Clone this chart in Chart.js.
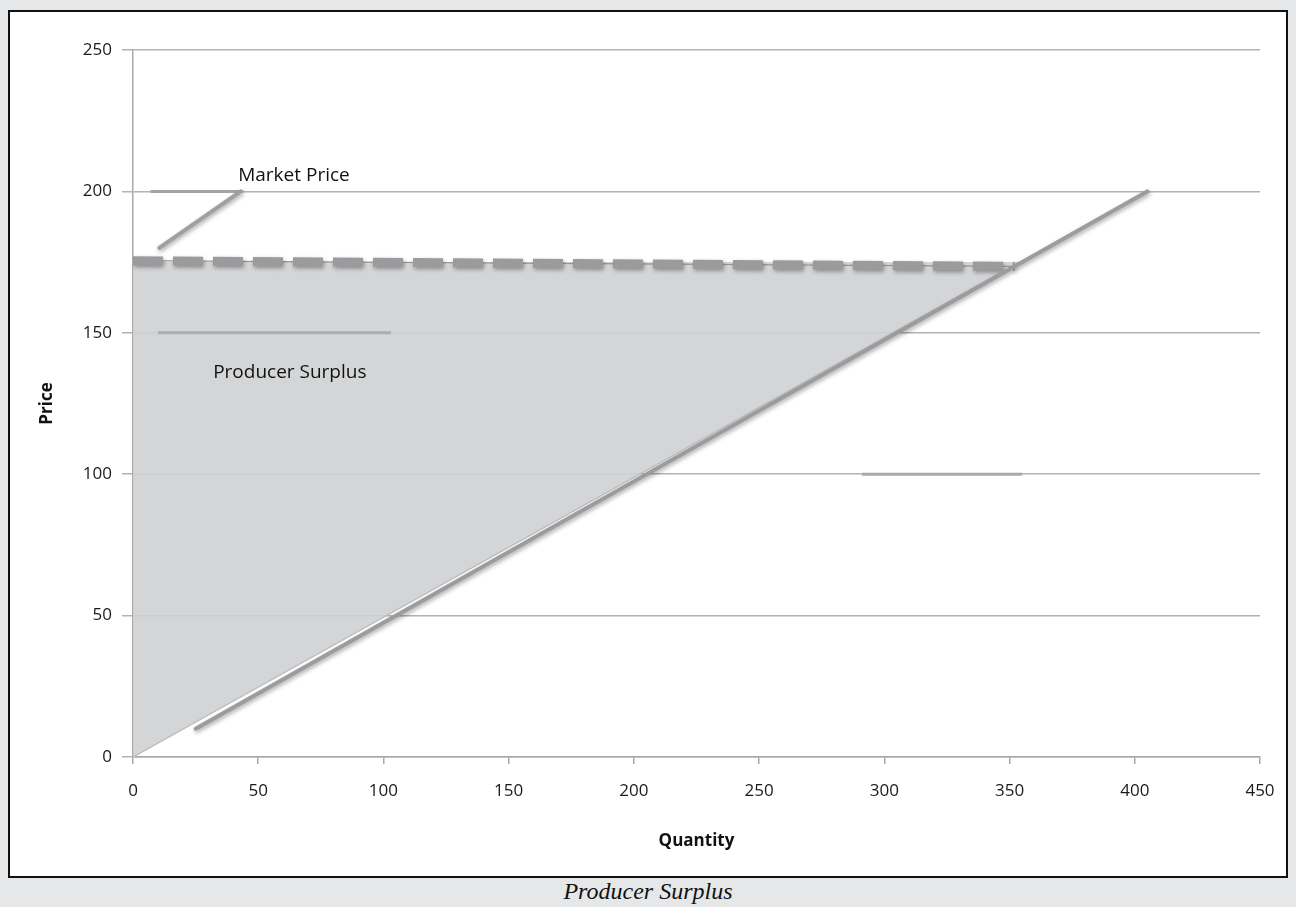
<!DOCTYPE html>
<html>
<head>
<meta charset="utf-8">
<script src="https://cdn.jsdelivr.net/npm/chart.js@4"></script>
<style>
  html, body { margin: 0; padding: 0; background: #e6e7e9; }
  .frame {
    position: absolute; left: 8px; top: 10px;
    width: 1276px; height: 864px;
    border: 2px solid #111; background: #fff;
  }
  .frame canvas { display: block; }
  .caption {
    position: absolute; left: 0; width: 1296px; top: 878px;
    text-align: center;
    font: italic 24px "Liberation Serif", "DejaVu Serif", serif;
    color: #111;
  }
</style>
</head>
<body>
<div class="frame"><canvas id="chart" width="1276" height="864"></canvas></div>
<div class="caption">Producer Surplus</div>
<script>
// axis ticks
const X_TICKS = [0, 50, 100, 150, 200, 250, 300, 350, 400, 450];
const Y_TICKS = [0, 50, 100, 150, 200, 250];

// supply curve and the shaded surplus triangle
const SUPPLY_Q = [25, 405];
const SUPPLY_P = [10, 200];
const SURPLUS_Q = [0, 354];
const SURPLUS_P = [0, 175];
const MARKET_PRICE = 175;

// market price line (dashed), drifts slightly toward the right end
const PRICE_LINE_Q = [0, 352];
const PRICE_LINE_P = [175.5, 173.5];

// callout strokes
const CALLOUT_H_Q = [7, 44];
const CALLOUT_H_P = [200, 200];
const CALLOUT_Q = [10.5, 43];
const CALLOUT_P = [180, 200];
const MARK150_Q = [10, 103];
const MARK150_P = [150, 150];
const MARK100_Q = [291, 355];
const MARK100_P = [100, 100];

// in-chart labels: [text, q, p]
const LABELS = [
  ['Market Price', 42, 205.5],
  ['Producer Surplus', 32, 136]
];

const FONT = "'Open Sans', 'Liberation Sans', sans-serif";
const pts = (xs, ys) => xs.map((x, i) => ({ x, y: ys[i] }));

const line = (data, color, width, extra) => Object.assign({
  data, borderColor: color, borderWidth: width,
  pointRadius: 0, fill: false, tension: 0, borderCapStyle: 'round'
}, extra || {});

const shadowPlugin = {
  id: 'softShadow',
  beforeDatasetDraw(chart, args) {
    const ds = chart.data.datasets[args.index];
    if (!ds.shadow) return;
    const c = chart.ctx;
    c.save();
    c.shadowColor = 'rgba(0,0,0,0.35)';
    c.shadowBlur = 4;
    c.shadowOffsetX = 1;
    c.shadowOffsetY = 2;
  },
  afterDatasetDraw(chart, args) {
    const ds = chart.data.datasets[args.index];
    if (ds.shadow) chart.ctx.restore();
  }
};

const labelPlugin = {
  id: 'textLabels',
  afterDatasetsDraw(chart) {
    const { ctx, scales: { x, y } } = chart;
    ctx.save();
    ctx.font = '19px ' + FONT;
    ctx.fillStyle = '#111';
    ctx.textBaseline = 'middle';
    ctx.textAlign = 'left';
    LABELS.forEach(([t, q, p]) => ctx.fillText(t, x.getPixelForValue(q), y.getPixelForValue(p)));
    ctx.restore();
  }
};

new Chart(document.getElementById('chart'), {
  type: 'line',
  data: {
    datasets: [
      line(pts(SURPLUS_Q, SURPLUS_P), '#bdbec0', 1.5, {
        fill: { value: MARKET_PRICE }, backgroundColor: 'rgba(207,208,210,0.9)', order: 9
      }),
      line(pts(PRICE_LINE_Q, PRICE_LINE_P), '#9a9a9c', 1.2, { order: 5 }),
      line(pts(PRICE_LINE_Q, PRICE_LINE_P), '#9b9b9d', 9, {
        borderDash: [30, 10], borderCapStyle: 'butt', shadow: true, order: 4
      }),
      line(pts(SUPPLY_Q, SUPPLY_P), '#9c9c9e', 4, { shadow: true, order: 3 }),
      line(pts(CALLOUT_H_Q, CALLOUT_H_P), '#a4a4a6', 3, { borderCapStyle: 'butt', order: 6 }),
      line(pts(CALLOUT_Q, CALLOUT_P), '#a0a0a2', 4, { shadow: true, order: 2 }),
      line(pts(MARK150_Q, MARK150_P), '#adadaf', 3, { borderCapStyle: 'butt', order: 6 }),
      line(pts(MARK100_Q, MARK100_P), '#a8a8aa', 3, { borderCapStyle: 'butt', order: 6 })
    ]
  },
  options: {
    responsive: false,
    animation: false,
    layout: { padding: { top: 38, right: 26, left: 0, bottom: 0 } },
    plugins: { legend: { display: false }, tooltip: { enabled: false } },
    scales: {
      x: {
        type: 'linear', min: 0, max: 450,
        afterBuildTicks: s => { s.ticks = X_TICKS.map(v => ({ value: v })); },
        afterFit: s => { s.height = 119; s.paddingLeft = 0; s.paddingRight = 0; },
        grid: { drawOnChartArea: false, tickLength: 7, color: '#a9a9ab', lineWidth: 1.5 },
        border: { color: '#a9a9ab', width: 1.5 },
        ticks: { color: '#1a1a1a', font: { family: FONT, size: 17 }, padding: 17, maxRotation: 0 },
        title: {
          display: true, text: 'Quantity', color: '#111',
          font: { family: FONT, size: 17, weight: 'bold' }, padding: { top: 0, bottom: 25 }
        }
      },
      y: {
        type: 'linear', min: 0, max: 250,
        afterBuildTicks: s => { s.ticks = Y_TICKS.map(v => ({ value: v })); },
        afterFit: s => { s.width = 123; s.paddingTop = 0; s.paddingBottom = 0; },
        grid: { color: '#b2b2b4', lineWidth: 1.5, tickLength: 11 },
        border: { color: '#a9a9ab', width: 1.5 },
        ticks: { color: '#1a1a1a', font: { family: FONT, size: 17 }, padding: 10 },
        title: {
          display: true, text: 'Price', color: '#111',
          font: { family: FONT, size: 17, weight: 'bold' }, padding: { top: 27, bottom: 0 }
        }
      }
    }
  },
  plugins: [shadowPlugin, labelPlugin]
});
</script>
</body>
</html>
